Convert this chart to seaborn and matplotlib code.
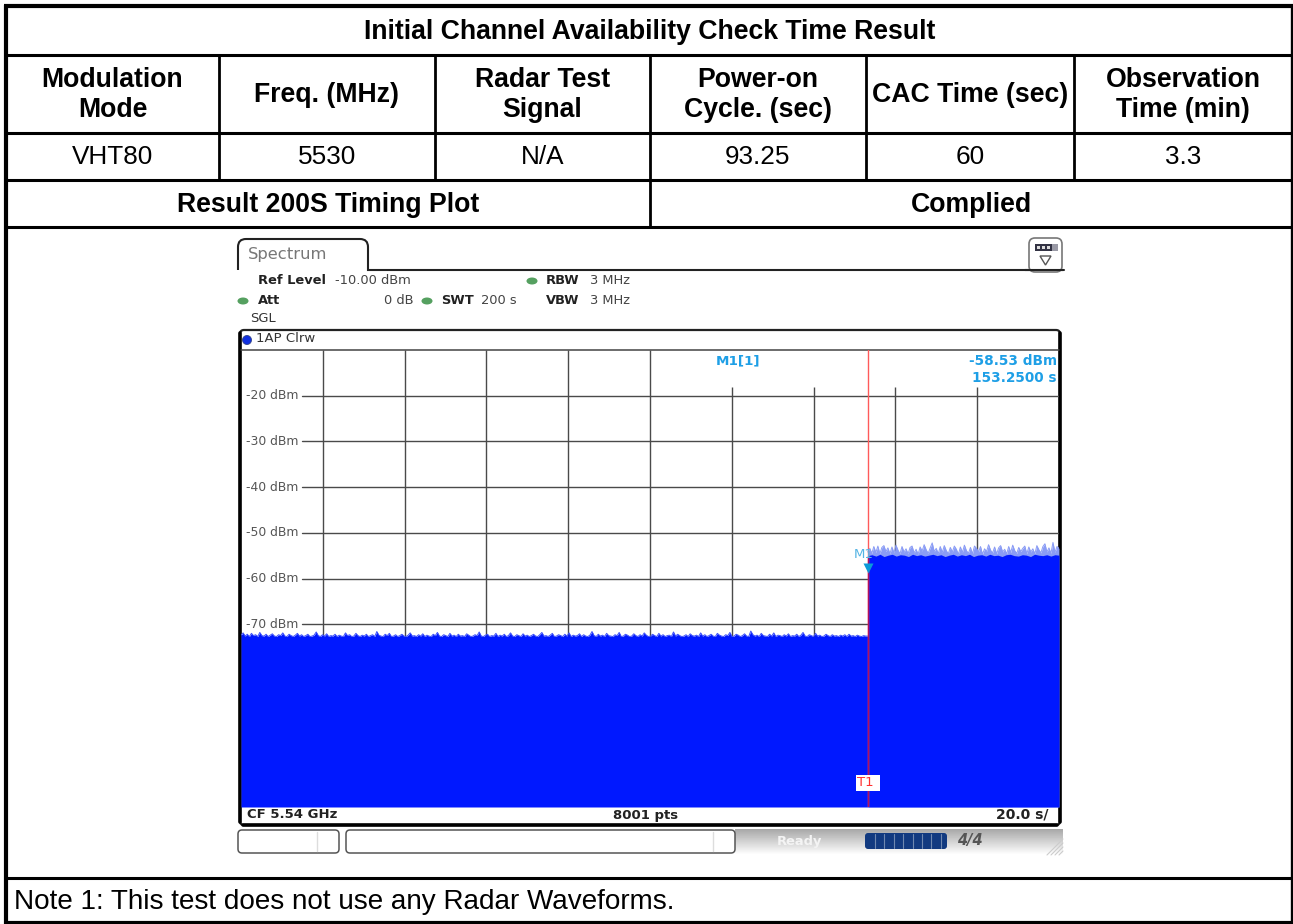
import numpy as np
import pandas as pd
import matplotlib
matplotlib.use("Agg")
import matplotlib.pyplot as plt
from matplotlib.patches import FancyBboxPatch, Rectangle, Ellipse, Circle, Polygon
from matplotlib.path import Path
from matplotlib.patches import PathPatch
import seaborn as sns

sns.set_theme(style="white")
plt.rcParams["font.family"] = ["Liberation Sans", "DejaVu Sans"]

# ---------- table text ----------
title = "Initial Channel Availability Check Time Result"
headers = ["Modulation\nMode", "Freq. (MHz)", "Radar Test\nSignal",
           "Power-on\nCycle. (sec)", "CAC Time (sec)", "Observation\nTime (min)"]
row_values = ["VHT80", "5530", "N/A", "93.25", "60", "3.3"]
result_left = "Result 200S Timing Plot"
result_right = "Complied"
note = "Note 1: This test does not use any Radar Waveforms."

# ---------- trace values (dBm), one per half second ----------
low_peak = [
 -72.4,-71.9,-72.6,-72.2,-72.7,-72.0,-72.5,-72.3,-72.7,-71.8,-72.5,-72.6,-72.2,-72.7,-72.4,-72.1,
 -72.6,-72.7,-72.3,-72.5,-71.9,-72.6,-72.7,-72.2,-72.5,-72.7,-72.4,-72.0,-72.6,-72.3,-72.7,-72.5,
 -72.2,-72.7,-72.6,-72.4,-71.7,-72.5,-72.7,-72.3,-72.6,-72.1,-72.7,-72.5,-72.6,-72.2,-72.7,-72.4,
 -72.6,-72.7,-71.9,-72.5,-72.3,-72.7,-72.6,-72.0,-72.5,-72.7,-72.4,-72.6,-72.2,-72.7,-72.5,-72.3,
 -72.7,-71.6,-72.4,-72.6,-72.7,-72.2,-72.5,-72.0,-72.7,-72.6,-72.3,-72.7,-72.5,-72.2,-72.6,-72.7,
 -72.4,-71.9,-72.6,-72.5,-72.7,-72.3,-72.6,-72.1,-72.7,-72.4,-72.6,-72.7,-72.2,-72.5,-71.8,-72.6,
 -72.7,-72.3,-72.5,-72.7,-72.0,-72.6,-72.4,-72.7,-72.2,-72.6,-72.5,-72.7,-72.1,-72.4,-72.7,-72.6,
 -72.3,-72.5,-71.7,-72.6,-72.7,-72.4,-72.2,-72.7,-72.5,-72.6,-72.0,-72.7,-72.4,-72.6,-72.2,-72.7,
 -72.5,-71.9,-72.6,-72.7,-72.3,-72.5,-72.7,-72.1,-72.6,-72.4,-72.7,-72.5,-72.2,-72.6,-72.7,-72.3,
 -71.8,-72.6,-72.5,-72.7,-72.4,-72.0,-72.7,-72.6,-72.3,-72.5,-72.7,-72.2,-72.6,-71.9,-72.7,-72.4,
 -72.6,-72.5,-72.1,-72.7,-72.3,-72.6,-72.7,-72.4,-71.6,-72.5,-72.7,-72.2,-72.6,-72.4,-72.7,-72.0,
 -72.5,-72.6,-72.7,-72.3,-72.5,-71.8,-72.7,-72.6,-72.2,-72.4,-72.7,-72.6,-72.1,-72.5,-72.7,-72.3,
 -72.6,-71.9,-72.4,-72.7,-72.6,-72.2,-72.5,-72.7,-72.0,-72.6,-72.3,-72.7,-72.5,-72.4,-72.7,-71.7,
 -72.6,-72.2,-72.5,-72.7,-72.6,-72.3,-72.7,-72.1,-72.5,-72.6,-72.4,-72.7,-71.9,-72.6,-72.3,-72.7,
 -72.5,-72.2,-72.6,-72.7,-72.0,-72.4,-72.6,-72.7,-72.3,-72.5,-71.8,-72.7,-72.6,-72.2,-72.4,-72.7,
 -72.5,-72.1,-72.6,-72.7,-71.5,-72.3,-72.6,-72.4,-72.7,-72.0,-72.5,-72.6,-72.7,-72.2,-72.6,-71.9,
 -72.7,-72.4,-72.5,-72.7,-72.3,-72.6,-72.1,-72.7,-72.5,-72.6,-72.2,-72.7,-72.4,-71.8,-72.6,-72.7,
 -72.3,-72.5,-72.7,-72.0,-72.6,-72.4,-72.7,-72.6,-72.2,-72.5,-72.7,-72.3,-72.6,-72.5,-72.7,-72.4,
 -72.6,-72.3,-72.7,-72.2,-72.6,-72.5,-72.7,-72.4,-72.6,-72.7,-72.5,-72.6,-72.6]
high_peak = [
 -54.2,-53.4,-54.5,-53.0,-54.3,-52.9,-54.6,-53.2,-52.8,-54.1,-53.3,-54.6,-53.1,-54.4,-52.7,-53.8,
 -54.6,-53.0,-54.2,-53.5,-54.6,-53.2,-52.9,-54.4,-53.6,-54.7,-53.1,-54.0,-52.6,-53.7,-54.5,-53.3,
 -52.2,-54.1,-53.4,-54.6,-53.0,-54.3,-52.8,-53.9,-54.6,-53.2,-54.2,-52.9,-53.6,-54.7,-53.1,-54.3,
 -52.7,-53.9,-54.5,-53.2,-54.6,-52.9,-53.4,-54.2,-53.0,-54.7,-53.5,-54.1,-52.6,-53.8,-54.4,-53.1,
 -54.6,-53.3,-52.8,-54.2,-53.6,-54.6,-53.0,-54.3,-52.7,-53.9,-54.5,-53.2,-54.1,-53.4,-52.9,-54.6,
 -53.1,-54.2,-53.5,-54.6,-52.8,-53.7,-54.4,-53.0,-52.4,-54.2,-53.3,-54.5,-52.1,-54.3,-53.0,-53.4]
high_floor = [
 -55.0,-54.8,-55.1,-54.7,-55.2,-54.9,-54.7,-55.1,-54.8,-54.9,-55.2,-54.7,-55.0,-54.8,-55.1,-54.9,
 -54.7,-55.0,-54.8,-55.2,-54.9,-54.7,-55.1,-54.8,-55.0,-54.7,-55.2,-54.9,-54.8,-55.1,-54.7,-55.0,
 -54.9,-55.2,-54.8,-54.7,-55.0,-55.1,-54.8,-54.9,-55.2,-54.7,-54.9,-55.0,-54.8,-55.1,-54.8,-54.9]
marker_time = 153.25
marker_level = -58.53
sweep_end = 200
t_low = np.linspace(0, marker_time, len(low_peak))
t_high = np.linspace(marker_time, sweep_end, len(high_peak))
t_floor = np.linspace(marker_time, sweep_end, len(high_floor))

db_ticks = [-20, -30, -40, -50, -60, -70]
full_grid_times = [20, 40, 60, 80, 100]
short_grid_times = [120, 140, 160, 180]

W, H = 1293, 924
fig = plt.figure(figsize=(W/100, H/100), dpi=100, facecolor="white")

# ---------- page layer in pixel coordinates ----------
bg = fig.add_axes([0, 0, 1, 1])
bg.set_xlim(0, W); bg.set_ylim(H, 0); bg.axis("off")

def hl(y, x0=6, x1=1292, lw=2.2):
    bg.plot([x0, x1], [y, y], color="black", lw=lw, solid_capstyle="butt")
def vl(x, y0, y1, lw=2.0):
    bg.plot([x, x], [y0, y1], color="black", lw=lw, solid_capstyle="butt")

for y in [55, 133, 180, 227, 878]:
    hl(y)
hl(6, 4, 1293, 3); hl(923, 4, 1293, 3)
vl(6, 5, 924, 3); vl(1292, 5, 924, 2.4)
col_x = [6, 219, 435, 650, 866, 1074, 1292]
for x in col_x[1:-1]:
    vl(x, 55, 180)
vl(650, 180, 227)

bold = dict(ha="center", va="center", fontweight="bold", fontsize=19.2, color="black", linespacing=1.2)
reg = dict(ha="center", va="center", fontsize=18.8, color="black")
bg.text(650, 32, title, **bold)
for i, h in enumerate(headers):
    bg.text((col_x[i]+col_x[i+1])/2, 95, h, **bold)
    bg.text((col_x[i]+col_x[i+1])/2, 157, row_values[i], **reg)
bg.text(328, 205, result_left, **bold)
bg.text(971, 205, result_right, **bold)
bg.text(14, 902, note, ha="left", va="center", fontsize=20.1, color="black")

# ---------- instrument screen chrome ----------
ui = ["DejaVu Sans"]
dark = "#222222"
fs = 9.4
tab = Path([(238, 270), (238, 247), (238, 239), (246, 239), (360, 239), (368, 239), (368, 247),
            (368, 270), (1063, 270)],
           [Path.MOVETO, Path.LINETO, Path.CURVE3, Path.CURVE3, Path.LINETO, Path.CURVE3, Path.CURVE3,
            Path.LINETO, Path.LINETO])
bg.add_patch(PathPatch(tab, fc="none", ec="#222222", lw=1.5))
bg.text(248, 254, "Spectrum", family=ui, fontsize=11.8, color="#777777", va="center")
bg.text(258, 280, "Ref Level", family=ui, fontsize=fs, fontweight="bold", color=dark, va="center")
bg.text(335, 280, "-10.00 dBm", family=ui, fontsize=fs, color="#444444", va="center")
bg.text(258, 300, "Att", family=ui, fontsize=fs, fontweight="bold", color=dark, va="center")
bg.text(413, 300, "0 dB", family=ui, fontsize=fs, color="#444444", va="center", ha="right")
bg.text(441, 300, "SWT", family=ui, fontsize=fs, fontweight="bold", color=dark, va="center")
bg.text(481, 300, "200 s", family=ui, fontsize=fs, color="#444444", va="center")
for yy, lab in [(280, "RBW"), (300, "VBW")]:
    bg.text(546, yy, lab, family=ui, fontsize=fs, fontweight="bold", color=dark, va="center")
    bg.text(590, yy, "3 MHz", family=ui, fontsize=fs, color="#444444", va="center")
bg.text(250, 319, "SGL", family=ui, fontsize=fs, color="#333333", va="center")
for cx, cy_ in [(243, 301), (427, 301), (532, 281)]:
    bg.add_patch(Ellipse((cx, cy_), 11, 7, fc="#55a060", ec="none"))

# top right icon
bg.add_patch(FancyBboxPatch((1029, 238), 33, 34, boxstyle="round,pad=0,rounding_size=6",
                            fc="white", ec="#777777", lw=1.2))
bg.plot([1025, 1064], [270, 270], color="#222222", lw=1.5)
bg.add_patch(Rectangle((1035, 244), 17, 7, fc="#333344", ec="none"))
bg.add_patch(Rectangle((1052, 244), 6, 7, fc="#9a9aa6", ec="none"))
for x in [1037, 1042, 1047]:
    bg.add_patch(Rectangle((x, 246), 3.2, 3, fc="#dddddd", ec="none"))
bg.add_patch(Polygon([(1040, 256), (1051, 256), (1045.5, 265)], fc="white", ec="#555555", lw=1))

# frame of the trace window
bg.add_patch(FancyBboxPatch((240, 330), 820, 495, boxstyle="round,pad=0,rounding_size=4",
                            fc="white", ec="#222222", lw=1.6))
bg.plot([240, 240], [333, 822], color="black", lw=2.6)
bg.plot([1060, 1060], [333, 822], color="black", lw=2.6)
bg.plot([243, 1057], [825, 825], color="black", lw=2.6)
bg.plot([241, 1059], [350, 350], color="#444444", lw=1.1)
bg.add_patch(Circle((247, 340), 4.5, fc="#1030e0", ec="#334488", lw=0.6))
bg.text(256, 339, "1AP Clrw", family=ui, fontsize=9.5, color="#333333", va="center")
bg.text(247, 815, "CF 5.54 GHz", family=ui, fontsize=9.5, fontweight="bold", color=dark, va="center")
bg.text(646, 815, "8001 pts", family=ui, fontsize=9.5, fontweight="bold", color=dark, va="center", ha="center")
bg.text(1048, 815, "20.0 s/", family=ui, fontsize=10, fontweight="bold", color=dark, va="center", ha="right")

# status bar
grad = np.linspace(0.66, 1.0, 26).reshape(-1, 1)
bg.imshow(grad, cmap="gray", vmin=0, vmax=1, extent=(735, 1063, 855, 829), aspect="auto", zorder=0.5)
bg.set_xlim(0, W); bg.set_ylim(H, 0)
for x0, x1, sep in [(238, 339, 317), (346, 735, 713)]:
    bg.add_patch(FancyBboxPatch((x0, 830), x1-x0, 23, boxstyle="round,pad=0,rounding_size=4",
                                fc="white", ec="#555555", lw=1.1, zorder=1))
    bg.plot([sep, sep], [832, 851], color="#dddddd", lw=1, zorder=2)
bg.text(800, 841, "Ready", family=ui, fontsize=9.4, fontweight="bold", color="#f4f4f4", va="center", ha="center", zorder=2)
bg.add_patch(FancyBboxPatch((865, 833), 82, 16, boxstyle="round,pad=0,rounding_size=3",
                            fc="#123a80", ec="none", zorder=2))
for x in np.arange(875, 947, 9.4):
    bg.plot([x, x], [834, 848], color="#6f88b0", lw=0.8, zorder=3)
bg.text(970, 841, "4/4", family=ui, fontsize=10.5, fontweight="bold", style="italic", color="#555555",
        va="center", ha="center", zorder=3)
for k in range(4):
    bg.plot([1047+k*4, 1063], [855, 839+k*4], color="#cccccc", lw=0.8, zorder=3)

# ---------- trace axes ----------
ax = fig.add_axes([241/W, 1-807/H, 818/W, 457/H])
ax.patch.set_visible(False)
for s in ax.spines.values():
    s.set_visible(False)

grid_c = "#4a4a4a"
for v in db_ticks:
    ax.plot([15, 200], [v, v], color=grid_c, lw=1, zorder=1)
    ax.text(1.3, v, f"{v} dBm", family=ui, fontsize=8.9, color="#555555", va="center", ha="left", zorder=2)
ax.vlines(full_grid_times, -110, -10, color=grid_c, lw=1, zorder=1)
ax.vlines(short_grid_times, -110, -18, color=grid_c, lw=1, zorder=1)

blue = "#0018ff"
light = "#8a9cf5"
df_low = pd.DataFrame({"t": t_low, "dBm": low_peak})
df_high = pd.DataFrame({"t": t_high, "dBm": high_peak})
df_floor = pd.DataFrame({"t": t_floor, "dBm": high_floor})
ax.fill_between(df_low["t"], -110, df_low["dBm"], color=blue, lw=0, zorder=3)
sns.lineplot(data=df_low, x="t", y="dBm", ax=ax, color="#3c50fa", lw=0.7, estimator=None, zorder=3, legend=False)
sns.lineplot(data=df_high, x="t", y="dBm", ax=ax, color=light, lw=0.7, estimator=None, zorder=3, legend=False)
ax.fill_between(df_high["t"], -110, df_high["dBm"], color=light, lw=0, zorder=3)
ax.fill_between(df_floor["t"], -110, df_floor["dBm"], color=blue, lw=0, zorder=3.1)
ax.set_xlim(0, 200); ax.set_ylim(-110, -10)
ax.set_xticks([]); ax.set_yticks([])
ax.set_xlabel(""); ax.set_ylabel("")

ax.axvline(marker_time, color="#ff5a5a", lw=1, zorder=4)
ax.plot([marker_time, marker_time], [-110, -55], color="#b01060", lw=1, zorder=4.1)
ax.plot([marker_time], [marker_level + 0.9], marker="v", ms=7.5, color="#0a9ad8", mec="none", zorder=5)
ax.text(marker_time - 1, -54.8, "M1", family=ui, fontsize=9.5, color="#55b4e4", ha="center", va="center", zorder=5)
ax.text(marker_time, -104.7, "T1 ", family=ui, fontsize=9.5, color="#ff3030", ha="center", va="center", zorder=6,
        bbox=dict(fc="white", ec="none", pad=1.2))
cy = "#1e9fe6"
ax.text(121.6, -12.5, "M1[1]", family=ui, fontsize=9.7, fontweight="bold", color=cy, ha="center", va="center", zorder=5)
ax.text(199.5, -12.5, "-58.53 dBm", family=ui, fontsize=9.8, fontweight="bold", color=cy, ha="right", va="center", zorder=5)
ax.text(199.5, -16.2, "153.2500 s", family=ui, fontsize=9.8, fontweight="bold", color=cy, ha="right", va="center", zorder=5)

fig.savefig("out.png", dpi=100, facecolor="white")
